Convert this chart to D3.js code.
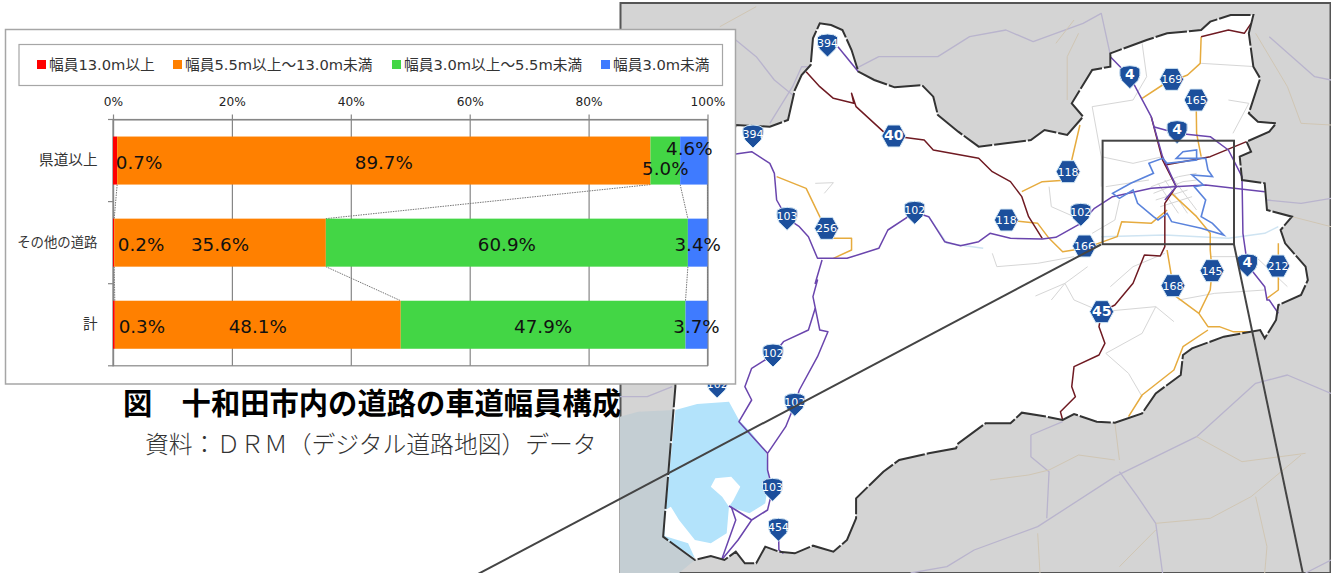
<!DOCTYPE html>
<html>
<head>
<meta charset="utf-8">
<script src="https://cdn.jsdelivr.net/npm/d3@7"></script>
<style>
  html, body { margin: 0; padding: 0; background: #fff; overflow: hidden; }
  svg { display: block; }
  text { font-family: "DejaVu Sans", "Noto Sans CJK JP", sans-serif; }
</style>
</head>
<body>
<div id="my_dataviz"></div>
<script>
// chart values
var categories = ["県道以上", "その他の道路", "計"];
var seriesNames = ["幅員13.0m以上", "幅員5.5m以上～13.0m未満", "幅員3.0m以上～5.5m未満", "幅員3.0m未満"];
var seriesColors = ["#ff0000", "#ff8000", "#43d645", "#3f7bff"];
var kenValues = [0.7, 89.7, 5.0, 4.6];
var otherValues = [0.2, 35.6, 60.9, 3.4];
var totalValues = [0.3, 48.1, 47.9, 3.7];
var xTicks = [0, 20, 40, 60, 80, 100];

// hand nudges for the labels that were moved in the original (dx, dy by category and series)
var labelNudge = {
    "0-0": [24, 0], "0-2": [0, 6], "0-3": [-4.5, -14],
    "1-0": [27.5, 0],
    "2-0": [28, 0]
};

// background map in crop units
var mapOutline = [[440,70],[465,75],[490,90],[510,150],[525,215],[560,240],[605,262],[665,255],[690,290],[700,345],[745,395],[790,440],[850,430],[905,420],[935,390],[985,405],[1020,350],[995,310],[1040,210],[1080,200],[1080,160],[1160,120],[1205,100],[1280,90],[1300,65],[1345,45],[1395,45],[1385,100],[1395,200],[1410,235],[1385,340],[1405,365],[1445,370],[1430,395],[1380,425],[1390,455],[1365,470],[1370,540],[1420,550],[1425,630],[1480,650],[1455,690],[1465,730],[1510,800],[1515,840],[1500,885],[1450,915],[1445,960],[1420,1015],[1410,990],[1330,1010],[1260,1045],[1240,1065],[1235,1125],[1180,1180],[1150,1240],[1090,1268],[1050,1265],[1000,1242],[975,1260],[940,1250],[885,1238],[860,1270],[805,1270],[745,1330],[740,1345],[680,1360],[615,1380],[580,1415],[520,1495],[520,1555],[500,1620],[470,1655],[425,1637],[385,1660],[350,1655],[320,1640],[300,1690],[275,1690],[255,1655],[230,1680],[200,1668],[165,1680],[95,1610],[122,1160],[122,1000],[255,375],[330,380],[370,360],[385,270],[400,225],[420,195],[425,115]];
var lakeShape = [[122,1230],[170,1212],[240,1205],[262,1260],[290,1300],[322,1355],[328,1440],[320,1510],[285,1540],[240,1520],[235,1600],[200,1630],[165,1620],[130,1560],[112,1520],[100,1530],[98,1608],[150,1630],[165,1675],[95,1610]];
var lakeIsland = [[200,1460],[210,1435],[245,1430],[265,1460],[250,1500],[240,1520],[225,1490]];
var lakeWest = [[0,1250],[40,1235],[122,1230],[95,1610],[165,1680],[130,1719],[0,1719]];
var urbanArea = [[1165,490],[1195,475],[1205,490],[1270,480],[1270,450],[1240,455],[1225,475],[1290,475],[1295,510],[1305,530],[1260,525],[1285,555],[1265,560],[1290,600],[1280,650],[1305,670],[1330,705],[1280,685],[1215,665],[1205,640],[1185,660],[1175,650],[1140,610],[1130,570],[1100,595],[1085,580],[1125,550],[1175,520]];
var purpleRoads = [
    [[480,140],[525,215]],
    [[255,462],[290,455],[330,490],[340,520],[345,600],[368,655],[395,680],[415,710],[435,775],[500,775],[570,745],[590,690],[649,637],[680,650],[715,725],[750,737],[790,725],[815,700],[860,715],[930,717],[960,712],[1015,670],[1045,625],[1085,590],[1170,565],[1220,560],[1290,555],[1420,575]],
    [[1080,170],[1123,230],[1170,350],[1195,470],[1225,560],[1200,600]],
    [[1175,380],[1227,400],[1300,410],[1340,450],[1370,530],[1372,700],[1382,795],[1420,860],[1425,900],[1430,900],[1450,940]],
    [[445,780],[430,850],[435,840],[425,890],[440,990],[458,995],[435,1070],[395,1170],[385,1213],[365,1280],[325,1360],[325,1410],[336,1468],[325,1530],[290,1560],[260,1620],[225,1678]],
    [[430,925],[415,990],[360,1025],[337,1065],[290,1105],[275,1160],[290,1200],[262,1265],[325,1360]],
    [[240,1518],[255,1530],[290,1560]],
    [[245,1520],[255,1560],[225,1675]],
    [[349,1588],[350,1650],[360,1660]]
];
var redRoads = [
    [[410,215],[440,260],[470,295],[515,310],[510,280],[520,320],[580,395],[603,408],[670,420],[690,450],[790,475],[820,515],[860,545],[885,590],[900,650],[930,715]],
    [[1280,110],[1340,90],[1375,100],[1390,70]],
    [[1200,495],[1300,470],[1380,425]],
    [[1170,350],[1195,480],[1225,560],[1200,610],[1200,740],[1190,768],[1155,765],[1130,850],[1090,915],[1061,935],[1055,980],[1068,1030],[1055,1065],[1000,1100],[995,1160],[1003,1190],[970,1235],[975,1260]]
];
var orangeRoads = [
    [[1280,110],[1278,190],[1250,225],[1195,255],[1150,295]],
    [[1269,300],[1270,400],[1280,470]],
    [[1013,375],[995,480],[987,515]],
    [[987,540],[930,545],[885,575]],
    [[345,530],[410,565],[440,650],[470,715],[510,715],[510,750],[470,775]],
    [[851,660],[920,670],[945,715],[975,755],[1023,745],[1095,710],[1105,665],[1170,670],[1205,630]],
    [[1215,580],[1270,650],[1300,700],[1300,750],[1304,812]],
    [[1205,750],[1218,857],[1225,890],[1275,940],[1295,980],[1320,980],[1350,995],[1390,995]],
    [[1304,812],[1300,870],[1275,940]],
    [[1295,990],[1240,1040],[1220,1110],[1150,1185],[1120,1250]],
    [[1450,730],[1450,870],[1425,895]]
];
var minorRoads = [
    [[1150,130],[1160,230],[1130,300],[1040,320],[1060,470],[1060,560]],
    [[1280,190],[1400,200]],[[1340,300],[1385,310],[1350,400]],
    [[1060,470],[1130,490],[1195,470]],[[1070,560],[1165,540]],
    [[945,560],[950,620],[1000,650]],[[1100,600],[1090,660],[1040,700]],
    [[820,760],[830,800],[920,790],[1000,770]],[[1030,800],[980,850],[950,900]],
    [[1200,760],[1130,800],[1080,860]],[[915,888],[980,850],[1000,900],[1060,935]],
    [[1061,935],[1180,920],[1220,965]],[[1180,920],[1150,1000],[1070,1060],[1120,1120],[1150,1190]],
    [[1300,770],[1400,770],[1470,860]],[[1230,900],[1310,880],[1420,870]],
    [[430,550],[470,548],[450,580]],
    // street grid in the town centre
    [[1170,560],[1230,530],[1270,520]],[[1175,580],[1240,545],[1270,540]],[[1180,600],[1250,570]],
    [[1190,620],[1260,590]],[[1200,540],[1250,640]],[[1185,550],[1230,640]],[[1215,530],[1270,630]]
];
var riverLines = [
    [[680,650],[720,730],[800,745]],
    [[1060,710],[1200,705],[1340,715],[1420,700],[1450,680]]
];
var outerPurple = [
    [[255,120],[300,170],[340,240],[385,290]],
    [[330,370],[380,260],[400,200],[520,205],[570,170],[700,170],[770,110],[850,90],[910,125],[1020,70],[1060,40],[1080,165]],
    [[1430,110],[1530,230],[1566,240]],[[1425,600],[1500,610],[1566,595]],
    [[780,1650],[920,1580],[1090,1430],[1270,1310],[1400,1150],[1470,1125],[1566,1180]],
    [[1100,1415],[1140,1490],[1180,1570],[1195,1719]],
    [[905,1305],[975,1265]],[[905,1305],[905,1370],[945,1415],[940,1555]],
    [[0,1190],[60,1190],[115,1160]],[[640,1719],[720,1700],[780,1650]],
    [[1510,1719],[1566,1680]]
];
var outerTan = [
    [[220,80],[300,20]],[[1000,60],[960,130]],[[1010,100],[985,170],[985,300]],
    [[1400,100],[1470,260],[1500,370],[1566,375]],[[1480,650],[1566,680]],
    [[815,1440],[900,1425],[945,1410],[1010,1365],[1090,1380]],[[1090,1270],[1100,1380]],
    [[1180,1570],[1300,1555],[1390,1490],[1500,1365]],[[1270,1310],[1370,1385],[1510,1360]],
    [[920,1600],[925,1719]],[[1400,1490],[1425,1640],[1420,1719]],
    [[1100,1700],[1180,1590]]
];
var routeShields = [
    { name: "394", x: 457, y: 135, shape: "shield" }, { name: "394", x: 293, y: 408, shape: "shield" },
    { name: "40", x: 603, y: 408, shape: "hex" }, { name: "4", x: 1123, y: 230, shape: "shield" },
    { name: "169", x: 1215, y: 238, shape: "hex" }, { name: "165", x: 1269, y: 300, shape: "hex" },
    { name: "4", x: 1227, y: 395, shape: "shield" }, { name: "118", x: 987, y: 515, shape: "hex" },
    { name: "103", x: 368, y: 655, shape: "shield" }, { name: "256", x: 455, y: 685, shape: "hex" },
    { name: "102", x: 649, y: 637, shape: "shield" }, { name: "118", x: 851, y: 660, shape: "hex" },
    { name: "102", x: 1015, y: 643, shape: "shield" }, { name: "166", x: 1023, y: 738, shape: "hex" },
    { name: "145", x: 1304, y: 812, shape: "hex" }, { name: "4", x: 1382, y: 795, shape: "shield" },
    { name: "212", x: 1449, y: 798, shape: "hex" }, { name: "168", x: 1218, y: 857, shape: "hex" },
    { name: "45", x: 1061, y: 935, shape: "hex" }, { name: "102", x: 337, y: 1065, shape: "shield" },
    { name: "102", x: 385, y: 1213, shape: "shield" }, { name: "103", x: 336, y: 1468, shape: "shield" },
    { name: "454", x: 349, y: 1588, shape: "shield" }, { name: "102", x: 214, y: 1158, shape: "shield" }
];

var svg = d3.select("#my_dataviz")
    .append("svg")
    .attr("width", 1331)
    .attr("height", 573);

// ---- map ----
var mapX = d3.scaleLinear().domain([0, 1566]).range([620, 1331]);
var mapY = d3.scaleLinear().domain([0, 1719]).range([0, 573]);
var mapLine = d3.line()
    .x(function (d) { return mapX(d[0]); })
    .y(function (d) { return mapY(d[1]); });

var map = svg.append("g");
map.append("rect")
    .attr("x", 620.5).attr("y", 3)
    .attr("width", 710).attr("height", 570)
    .attr("fill", "#d4d4d4")
    .attr("stroke", "#555")
    .attr("stroke-width", 2);
map.append("path").attr("d", mapLine(lakeWest) + "Z").attr("fill", "#c4ced3");

function drawRoads(list, color, w, opacity) {
    map.append("g").selectAll("path")
        .data(list)
        .enter()
        .append("path")
        .attr("d", mapLine)
        .attr("fill", "none")
        .attr("stroke", color)
        .attr("stroke-width", w)
        .attr("stroke-opacity", opacity)
        .attr("stroke-linejoin", "round");
}
drawRoads(outerPurple, "#b9b4cd", 1.3, 1);
drawRoads(outerTan, "#d0c6b4", 1, 1);

map.append("path").attr("d", mapLine(mapOutline) + "Z").attr("fill", "#fff");
map.append("path").attr("d", mapLine(lakeShape) + "Z").attr("fill", "#b3e3fb");
map.append("path").attr("d", mapLine(lakeIsland) + "Z").attr("fill", "#fff");
drawRoads(riverLines, "#cfe4f2", 1.5, 1);
drawRoads(minorRoads, "#d6d6d6", 1, 1);
drawRoads(orangeRoads, "#e6ab3e", 1.5, 1);
drawRoads(redRoads, "#6f1a22", 1.5, 1);
drawRoads(purpleRoads, "#6a45ad", 1.5, 1);
map.append("path")
    .attr("d", mapLine(urbanArea) + "Z")
    .attr("fill", "none")
    .attr("stroke", "#5a83dc")
    .attr("stroke-width", 1.6);
map.append("path")
    .attr("d", mapLine(mapOutline) + "Z")
    .attr("fill", "none")
    .attr("stroke", "#333")
    .attr("stroke-width", 2)
    .attr("stroke-dasharray", "32 2");

// route markers
var hexPath = "M-12,0L-6,-11L6,-11L12,0L6,11L-6,11Z";
var shieldPath = "M-10,-8Q-7,-11,0,-11Q7,-11,10,-8Q11,0,8,4L0,12L-8,4Q-11,0,-10,-8Z";
var marker = map.selectAll(".route")
    .data(routeShields)
    .enter()
    .append("g")
    .attr("class", "route")
    .attr("transform", function (d) { return "translate(" + mapX(d.x) + "," + mapY(d.y) + ")"; });
marker.append("path")
    .attr("d", function (d) { return d.shape == "hex" ? hexPath : shieldPath; })
    .attr("fill", "#1c4f9c")
    .attr("stroke", "#d8ebf7")
    .attr("stroke-width", 1);
marker.append("text")
    .attr("text-anchor", "middle")
    .attr("y", function (d) { return d.shape == "hex" ? 4 : 2; })
    .attr("fill", "#fff")
    .attr("font-family", "Roboto")
    .attr("font-size", function (d) { return d.name.length > 2 ? 11 : 14; })
    .attr("font-weight", function (d) { return d.name.length > 2 ? 400 : 700; })
    .text(function (d) { return d.name; });

// inset box and its two leader lines
var inset = svg.append("g").attr("fill", "none").attr("stroke", "#444").attr("stroke-width", 2);
inset.append("rect").attr("x", 1102.6).attr("y", 140.7).attr("width", 131.4).attr("height", 103.5);
inset.append("line").attr("x1", 1101).attr("y1", 244.5).attr("x2", 478).attr("y2", 574);
inset.append("line").attr("x1", 1234).attr("y1", 244.5).attr("x2", 1303).attr("y2", 574);

// ---- chart panel ----
svg.append("rect")
    .attr("x", 5.5).attr("y", 29.5)
    .attr("width", 730).attr("height", 354.5)
    .attr("fill", "#fff")
    .attr("stroke", "#a6a6a6")
    .attr("stroke-width", 1.5);
svg.append("rect")
    .attr("x", 19).attr("y", 44.5)
    .attr("width", 703.5).attr("height", 41)
    .attr("fill", "#fff")
    .attr("stroke", "#a6a6a6")
    .attr("stroke-width", 1.2);

var legendX = [37, 173, 392, 601];
var legend = svg.selectAll(".legend")
    .data(seriesNames)
    .enter()
    .append("g")
    .attr("class", "legend")
    .attr("transform", function (d, i) { return "translate(" + legendX[i] + ",60)"; });
legend.append("rect")
    .attr("width", 9).attr("height", 9)
    .attr("fill", function (d, i) { return seriesColors[i]; });
legend.append("text")
    .attr("x", 12).attr("y", 9.8)
    .attr("font-size", 14.7)
    .attr("fill", "#333")
    .text(function (d) { return d; });

// scales
var x = d3.scaleLinear().domain([0, 100]).range([113, 707.5]).clamp(true);
var y = d3.scaleBand()
    .domain(categories)
    .range([119.5, 365.8])
    .paddingInner(0.415)
    .paddingOuter(0.2075);

var rows = [kenValues, otherValues, totalValues].map(function (values, r) {
    var row = { category: categories[r] };
    seriesNames.forEach(function (s, i) { row[s] = values[i]; });
    return row;
});
var stacked = d3.stack().keys(seriesNames)(rows);

// plot frame and gridlines
var plot = svg.append("g");
plot.append("rect")
    .attr("x", x(0)).attr("y", 119.5)
    .attr("width", x(100) - x(0)).attr("height", 246.3)
    .attr("fill", "none")
    .attr("stroke", "#868686")
    .attr("stroke-width", 1.2);

var axisTop = plot.append("g")
    .attr("transform", "translate(0,119.5)")
    .call(d3.axisTop(x).tickValues(xTicks).tickFormat(function (d) { return d + "%"; }).tickSize(5).tickSizeOuter(0).tickPadding(9));
axisTop.selectAll(".tick line").clone()
    .attr("y1", 0).attr("y2", 246.3);
axisTop.selectAll("line").attr("stroke", "#868686").attr("stroke-width", 1.2);
axisTop.select(".domain").attr("stroke", "#868686");
axisTop.selectAll("text")
    .attr("font-size", 12.2)
    .attr("font-family", "DejaVu Sans")
    .attr("fill", "#222");

var axisLeft = plot.append("g")
    .attr("transform", "translate(113,0)")
    .call(d3.axisLeft(y).tickSize(0).tickPadding(15.5));
axisLeft.select(".domain").attr("stroke", "#868686").attr("stroke-width", 1.2);
axisLeft.selectAll("text")
    .attr("font-size", function (d) { return d == "その他の道路" ? 13.4 : 14.6; })
    .attr("fill", "#333");

// category tick marks sit between the bars
plot.selectAll(".catTick")
    .data([0, 1, 2, 3])
    .enter()
    .append("line")
    .attr("class", "catTick")
    .attr("x1", 108).attr("x2", 113)
    .attr("y1", function (d) { return y.range()[0] + d * y.step(); })
    .attr("y2", function (d) { return y.range()[0] + d * y.step(); })
    .attr("stroke", "#868686")
    .attr("stroke-width", 1.2);

// dotted series lines between neighbouring bars
var seriesLines = [];
stacked.forEach(function (layer) {
    for (var r = 0; r < categories.length - 1; r++) {
        seriesLines.push({
            x1: x(layer[r][1]), y1: y(categories[r]) + y.bandwidth(),
            x2: x(layer[r + 1][1]), y2: y(categories[r + 1])
        });
    }
});
plot.selectAll(".seriesLine")
    .data(seriesLines)
    .enter()
    .append("line")
    .attr("class", "seriesLine")
    .attr("x1", function (d) { return d.x1; })
    .attr("y1", function (d) { return d.y1; })
    .attr("x2", function (d) { return d.x2; })
    .attr("y2", function (d) { return d.y2; })
    .attr("stroke", "#777")
    .attr("stroke-width", 1)
    .attr("stroke-dasharray", "1.5 1");

// bars
var layers = plot.selectAll(".layer")
    .data(stacked)
    .enter()
    .append("g")
    .attr("class", "layer")
    .attr("fill", function (d, i) { return seriesColors[i]; });
layers.selectAll("rect")
    .data(function (d) { return d; })
    .enter()
    .append("rect")
    .attr("x", function (d) { return x(d[0]); })
    .attr("y", function (d) { return y(d.data.category); })
    .attr("width", function (d) { return x(d[1]) - x(d[0]); })
    .attr("height", y.bandwidth());

// data labels
stacked.forEach(function (layer, s) {
    layer.forEach(function (d, r) {
        var nudge = labelNudge[r + "-" + s] || [0, 0];
        plot.append("text")
            .attr("x", (x(d[0]) + x(d[1])) / 2 + nudge[0])
            .attr("y", y(d.data.category) + y.bandwidth() / 2 + nudge[1])
            .attr("dy", "0.44em")
            .attr("text-anchor", "middle")
            .attr("font-size", 18.3)
            .attr("fill", "#111")
            .text(d3.format(".1f")(d[1] - d[0]) + "%");
    });
});

// caption under the chart
svg.append("text")
    .attr("x", 123).attr("y", 414)
    .attr("font-family", "Noto Sans CJK JP")
    .attr("font-size", 29.3)
    .attr("font-weight", "bold")
    .attr("fill", "#000")
    .text("図　十和田市内の道路の車道幅員構成");
svg.append("text")
    .attr("x", 145).attr("y", 453)
    .attr("font-family", "Noto Sans CJK JP")
    .attr("font-size", 23.8)
    .attr("font-weight", 300)
    .attr("fill", "#333")
    .text("資料：ＤＲＭ（デジタル道路地図）データ");
</script>
</body>
</html>
